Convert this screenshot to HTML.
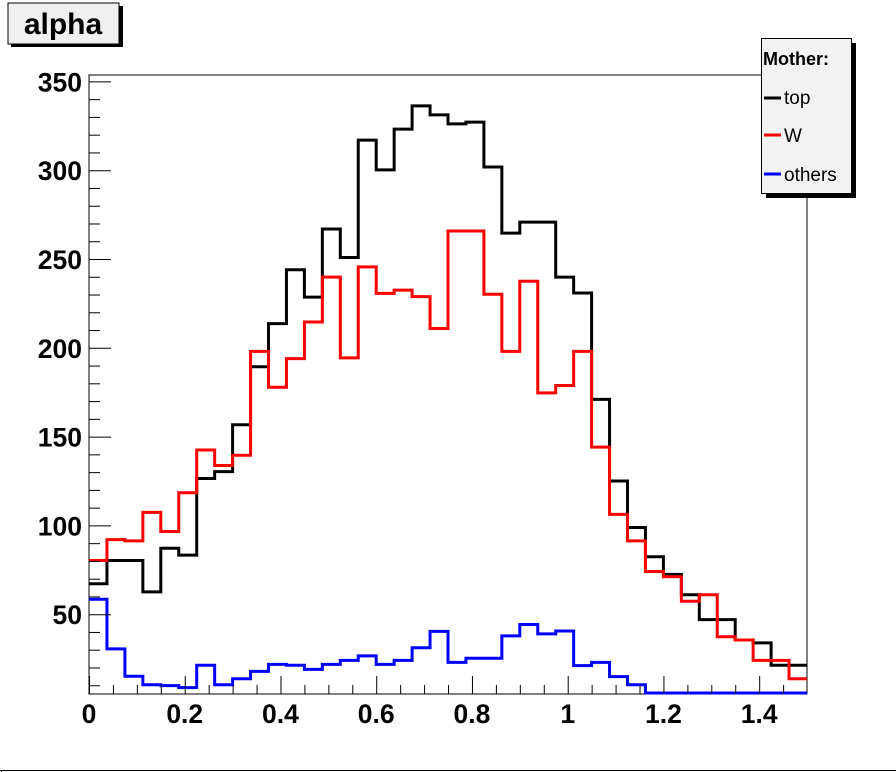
<!DOCTYPE html>
<html><head><meta charset="utf-8"><style>
html,body{margin:0;padding:0;background:#fff;}
svg{display:block;}
text{font-family:"Liberation Sans",Arial,sans-serif;}
</style></head><body>
<svg width="896" height="772" viewBox="0 0 896 772" xmlns="http://www.w3.org/2000/svg">
<rect x="0" y="0" width="896" height="772" fill="#fff"/>
<rect x="11" y="6" width="112" height="41" fill="#000"/>
<rect x="8" y="3" width="111" height="41" fill="#f0f0f0" stroke="#000" stroke-width="1"/>
<text x="63" y="34" font-size="30" font-weight="bold" text-anchor="middle">alpha</text>
<rect x="89" y="75" width="718" height="619" fill="none" stroke="#000" stroke-width="1"/>
<g id="series" transform="translate(0,70) scale(1,0.4077)" fill="none" stroke-width="3" stroke-linejoin="miter">
</g>
<g id="ticks" stroke="#000" stroke-width="1"></g>
<g id="labels" font-size="26.5" font-weight="bold"></g>
<rect x="766" y="43" width="90" height="155" fill="#000"/>
<rect x="761.5" y="38.5" width="90" height="155" fill="#f2f2f2" stroke="#000" stroke-width="1"/>
<text x="763" y="65" font-size="18" font-weight="bold">Mother:</text>
<line x1="764" y1="98" x2="781" y2="98" stroke="#000" stroke-width="3"/>
<text x="784" y="104" font-size="19">top</text>
<line x1="764" y1="135" x2="781" y2="135" stroke="#f00" stroke-width="3"/>
<text x="784" y="142" font-size="19">W</text>
<line x1="764" y1="174" x2="781" y2="174" stroke="#00f" stroke-width="3"/>
<text x="784" y="181" font-size="19">others</text>
<line x1="0" y1="770.5" x2="896" y2="770.5" stroke="#000" stroke-width="1"/>
<line x1="1.5" y1="770" x2="1.5" y2="772" stroke="#000" stroke-width="1"/>
</svg>
<script>
(function(){
var NS="http://www.w3.org/2000/svg";
var black=[1260,1203,1203,1280,1173,1190,1002,985,870,728,622,490,557,390,460,172,245,145,88,110,132,128,238,400,373,373,508,547,808,1008,1122,1194,1237,1287,1348,1348,1398,1405,1460,1460];
var red=[1203,1152,1155,1085,1132,1037,932,970,945,690,778,708,618,508,706,483,548,540,556,634,395,395,550,690,518,792,774,690,925,1090,1155,1230,1243,1303,1287,1390,1398,1448,1448,1493];
var blue=[1298,1420,1487,1508,1510,1515,1460,1508,1493,1475,1458,1460,1470,1458,1448,1437,1458,1448,1417,1377,1453,1443,1443,1388,1360,1383,1376,1461,1453,1488,1508,1528,1528,1528,1528,1528,1528,1528,1528,1528];
var g=document.getElementById('series');
function path(v,col){
 var bw=(807-89)/40, d="";
 for(var i=0;i<v.length;i++){
  var x0=89+i*bw,x1=x0+bw;
  d+=(i==0?"M":"L")+x0.toFixed(2)+","+v[i]+"L"+x1.toFixed(2)+","+v[i];
 }
 var p=document.createElementNS(NS,'path');
 p.setAttribute('d',d);p.setAttribute('stroke',col);
 p.setAttribute('vector-effect','non-scaling-stroke');
 g.appendChild(p);
}
path(black,'#000');path(red,'#f00');path(blue,'#00f');
var t=document.getElementById('ticks'),L=document.getElementById('labels');
function line(x1,y1,x2,y2){var l=document.createElementNS(NS,'line');l.setAttribute('x1',x1);l.setAttribute('y1',y1);l.setAttribute('x2',x2);l.setAttribute('y2',y2);t.appendChild(l);}
function txt(x,y,s,a){var e=document.createElementNS(NS,'text');e.setAttribute('x',x);e.setAttribute('y',y);e.setAttribute('text-anchor',a);e.textContent=s;L.appendChild(e);}
var ppu=88.8/50;
for(var v=10;v<=350;v+=10){
 var y=81.4+(350-v)*ppu; if(y>694)continue;
 var major=(v%50==0);
 line(89,y+0.5,89+(major?22:11),y+0.5);
 if(major) txt(82,y+10,String(v),'end');
}
var xs=478.7;
for(var k=0;k<=30;k++){
 var xv=k*0.05, x=89+xv*xs; if(x>807)break;
 var major=(k%4==0);
 line(x+0.5,694,x+0.5,694-(major?18:9));
 if(major){var s=(k==0?"0":(k%20==0?String(k/20):(xv).toFixed(1)));txt(x,723,s,'middle');}
}
})();
</script>
</body></html>
